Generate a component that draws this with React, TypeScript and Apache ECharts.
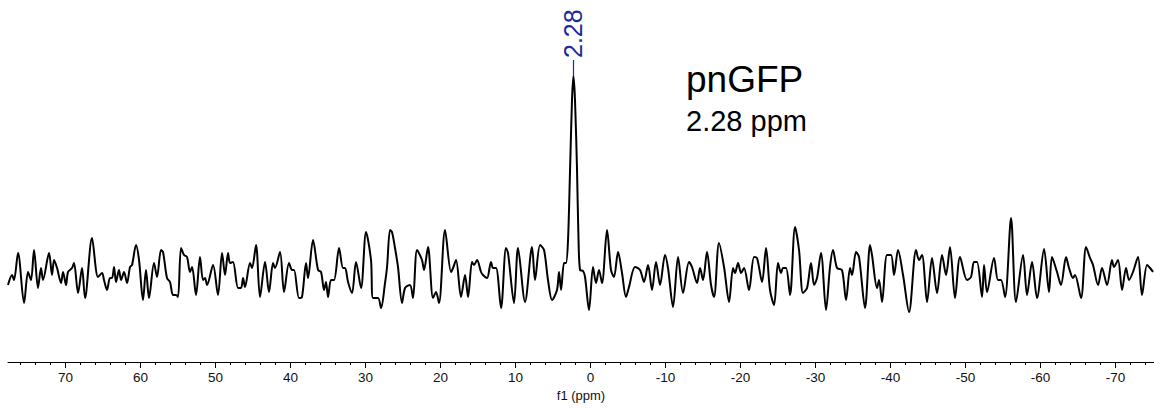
import { useEffect, useRef } from "react";
import * as echarts from "echarts";

// Chemical shift (ppm) of each sampled point of the trace, left to right
const ppm = [
  77.67, 77.13, 76.87, 76.33, 75.53, 75.0, 74.6, 74.2, 73.67, 73.27, 73.0, 72.2, 71.8, 71.53, 71.13, 70.6, 70.33, 69.93, 69.67, 69.13,
  68.87, 68.33, 67.8, 67.4, 66.47, 65.67, 65.13, 64.87, 64.47, 64.07, 63.8, 63.53, 63.27, 62.87, 62.6, 62.2, 61.8, 61.4, 61.13, 60.6,
  60.2, 59.67, 59.27, 58.87, 58.2, 57.8, 57.27, 57.0, 56.47, 56.07, 55.67, 55.27, 55.0, 54.6, 54.2, 53.8, 53.4, 53.13, 52.6, 52.07,
  51.67, 51.4, 51.13, 50.33, 49.67, 49.13, 48.73, 48.33, 48.07, 47.67, 47.0, 46.6, 46.33, 46.07, 45.4, 45.13, 44.6, 44.07, 43.4, 42.87,
  42.33, 42.07, 41.4, 40.87, 40.2, 39.8, 39.53, 38.87, 38.47, 37.93, 37.67, 37.0, 36.33, 35.93, 35.53, 35.27, 35.0, 34.6, 34.2, 33.53,
  33.0, 32.73, 32.33, 31.8, 31.27, 30.6, 29.93, 29.27, 29.0, 28.33, 27.93, 27.4, 27.13, 26.73, 26.47, 26.07, 25.67, 25.13, 24.73, 24.07,
  23.67, 23.13, 22.47, 22.2, 21.67, 21.0, 20.6, 20.2, 19.4, 18.6, 18.33, 17.93, 17.27, 16.73, 16.33, 15.8, 15.53, 15.13, 14.6, 14.33,
  13.8, 13.27, 13.0, 12.6, 11.93, 11.27, 11.0, 10.2, 9.67, 8.73, 7.8, 7.4, 6.73, 6.2, 5.67, 5.13, 4.47, 4.2, 3.93, 3.53,
  3.27, 3.0, 2.73, 2.47, 2.28, 2.07, 1.8, 1.6, 1.4, 1.0, 0.73, 0.2, -0.33, -0.73, -1.13, -1.53, -2.2, -2.73, -3.13, -3.67,
  -4.2, -4.73, -5.13, -5.93, -6.6, -7.13, -7.67, -8.2, -8.73, -9.27, -9.93, -10.33, -11.0, -11.67, -12.33, -13.13, -13.53, -14.2, -14.6, -15.0,
  -15.53, -16.07, -16.47, -17.13, -17.8, -18.47, -19.0, -19.27, -19.67, -20.07, -20.47, -21.13, -21.8, -22.2, -22.87, -23.4, -23.93, -24.47, -25.0, -25.4,
  -25.67, -26.07, -26.6, -27.27, -27.8, -28.33, -28.87, -29.4, -29.8, -30.2, -30.73, -31.4, -31.93, -32.33, -32.87, -33.53, -34.07, -34.6, -34.87, -35.4,
  -35.8, -36.6, -37.27, -37.53, -38.2, -38.47, -38.87, -39.53, -40.07, -40.47, -41.0, -41.67, -42.47, -43.4, -43.8, -44.2, -44.87, -45.53, -46.2, -46.87,
  -47.4, -47.93, -48.6, -49.27, -50.2, -50.73, -51.13, -51.53, -52.2, -52.47, -52.87, -53.8, -54.33, -54.73, -55.27, -56.07, -56.73, -57.67, -58.2, -58.87,
  -59.53, -60.47, -61.13, -61.53, -62.2, -62.73, -63.4, -63.8, -64.33, -64.6, -65.4, -66.07, -66.6, -67.0, -67.67, -68.2, -68.87, -69.53, -69.8, -70.33,
  -70.87, -71.4, -71.8, -72.33, -73.0, -73.53, -74.2, -74.6, -75.0,
];

// Signal intensity (arbitrary units) at each ppm value above
const intensity = [
  15, 25, 20, 47, -3, 28, 20, 50, 12, 32, 20, 47, 25, 40, 32, 17, 28, 15, 28, 32,
  37, 7, 32, 2, 62, 23, 27, 20, 10, 22, 22, 33, 18, 30, 20, 28, 17, 33, 35, 55,
  40, 0, 30, 2, 37, 23, 50, 48, 22, 18, 5, 5, 3, 52, 45, 43, 28, 33, 5, 43,
  20, 22, 15, 35, 5, 47, 25, 47, 37, 38, 12, 12, 22, 13, 37, 32, 55, 3, 38, 8,
  37, 32, 48, 8, 37, 30, 30, 2, 3, 37, 22, 60, 30, 28, 10, 18, 3, 20, 20, 52,
  32, 32, 18, 7, 38, 12, 68, 40, 2, 2, -8, 17, 33, 70, 68, 52, 33, -3, 12, 15,
  2, 50, 40, 30, 53, 2, 8, -3, 70, 28, 32, 40, 3, 25, 3, 38, 35, 40, 28, 25,
  22, 38, 32, 32, -8, 52, 47, -3, 52, -2, 53, 20, 55, 50, 20, 0, 10, 28, 10, 37,
  37, 60, 130, 200, 224, 200, 130, 60, 30, 29, 23, -10, 33, 17, 30, 17, 70, 30, 23, 48,
  27, 3, 13, 33, 30, 18, 35, 10, 38, 15, 45, 32, -7, 43, 7, 38, 33, 17, 32, 20,
  48, 15, 3, 57, 33, -2, 32, 27, 37, 27, 32, 10, 43, 42, 18, 52, 10, -5, 37, 27,
  32, 32, 5, 73, 50, 7, 12, 37, 15, 22, 47, -10, 33, 50, 32, 30, 0, 32, 25, 48,
  43, -8, 55, 45, 12, 20, -2, 45, 45, 25, 50, 25, -12, 50, 40, 45, -2, 42, 7, 45,
  25, 53, 2, 43, 20, 23, 38, 38, 3, 35, 8, 42, 20, 20, 3, 82, -2, 45, 5, 38,
  2, 51, 8, 43, 28, 15, 43, 32, 22, 25, 2, 53, 42, 35, 15, 32, 15, 40, 33, 40,
  10, 32, 20, 28, 43, 5, 35, 32, 28,
];

const tickLabels = [70, 60, 50, 40, 30, 20, 10, 0, -10, -20, -30, -40, -50, -60, -70];
const minorTicks = [
  76, 74, 72, 68, 66, 64, 62, 58, 56, 54, 52, 48, 46, 44, 42, 38, 36, 34, 32, 28, 26, 24, 22, 18, 16, 14, 12, 8, 6, 4, 2,
  -2, -4, -6, -8, -12, -14, -16, -18, -22, -24, -26, -28, -32, -34, -36, -38, -42, -44, -46, -48, -52, -54, -56, -58,
  -62, -64, -66, -68, -72, -74,
];

const peakPpm = 2.28;
const peakIntensity = 224;
const peakLabel = "2.28";
const sampleName = "pnGFP";
const sampleShift = "2.28 ppm";
const axisTitle = "f1 (ppm)";

const X_MIN = -75.13;
const X_MAX = 77.67;
const FONT = "'Liberation Sans', Arial, sans-serif";
const BLUE = "#1b2a9c";

export default function App() {
  const ref = useRef<HTMLDivElement>(null);

  useEffect(() => {
    if (!ref.current) return;
    const chart = echarts.init(ref.current, undefined, { renderer: "svg" });
    const data = ppm.map((p, i) => [p, intensity[i]]);

    chart.setOption({
      animation: false,
      backgroundColor: "#ffffff",
      grid: { left: 8, right: 0, top: 60, bottom: 48, containLabel: false },
      xAxis: [
        {
          type: "value",
          min: X_MIN,
          max: X_MAX,
          inverse: true,
          position: "bottom",
          axisLine: { show: true, onZero: false, lineStyle: { color: "#000", width: 1 } },
          axisTick: { show: true, customValues: tickLabels, length: 6, lineStyle: { color: "#000", width: 1 } },
          axisLabel: {
            show: true,
            customValues: tickLabels,
            fontSize: 13.5,
            color: "#111",
            fontFamily: FONT,
            margin: 8,
          },
          splitLine: { show: false },
          name: axisTitle,
          nameLocation: "middle",
          nameGap: 27,
          nameTextStyle: { fontSize: 13, color: "#111", fontFamily: FONT },
        },
        {
          type: "value",
          min: X_MIN,
          max: X_MAX,
          inverse: true,
          position: "top",
          offset: -302,
          axisLine: { show: false },
          axisTick: { show: true, inside: true, customValues: minorTicks, length: 3, lineStyle: { color: "#000", width: 1 } },
          axisLabel: { show: false },
          splitLine: { show: false },
        },
      ],
      yAxis: { type: "value", min: -62, max: 240, show: false, splitLine: { show: false } },
      series: [
        {
          type: "line",
          data,
          xAxisIndex: 0,
          showSymbol: false,
          smooth: 0.3,
          lineStyle: { color: "#000", width: 2 },
          silent: true,
        },
        {
          type: "scatter",
          xAxisIndex: 0,
          data: [[peakPpm, peakIntensity]],
          symbolSize: 0,
          silent: true,
          itemStyle: { opacity: 1 },
          label: {
            show: true,
            formatter: peakLabel,
            position: "top",
            distance: 18,
            rotate: 90,
            align: "left",
            verticalAlign: "middle",
            fontSize: 25,
            color: BLUE,
            opacity: 1,
            textBorderWidth: 0,
            fontFamily: FONT,
          },
          markLine: {
            silent: true,
            symbol: ["none", "none"],
            label: { show: false },
            lineStyle: { color: BLUE, width: 1.2, type: "solid", opacity: 1 },
            data: [[{ coord: [peakPpm, peakIntensity] }, { coord: [peakPpm, peakIntensity + 16] }]],
          },
        },
      ],
      graphic: [
        {
          type: "text",
          left: 686,
          top: 61,
          style: { text: sampleName, fontSize: 37, fill: "#000", fontFamily: FONT },
        },
        {
          type: "text",
          left: 686,
          top: 106,
          style: { text: sampleShift, fontSize: 29, fill: "#000", fontFamily: FONT },
        },
      ],
    });

    return () => chart.dispose();
  }, []);

  return (
    <div
      ref={ref}
      style={{ position: "absolute", left: 0, top: 0, width: 1154, height: 410 }}
    />
  );
}
